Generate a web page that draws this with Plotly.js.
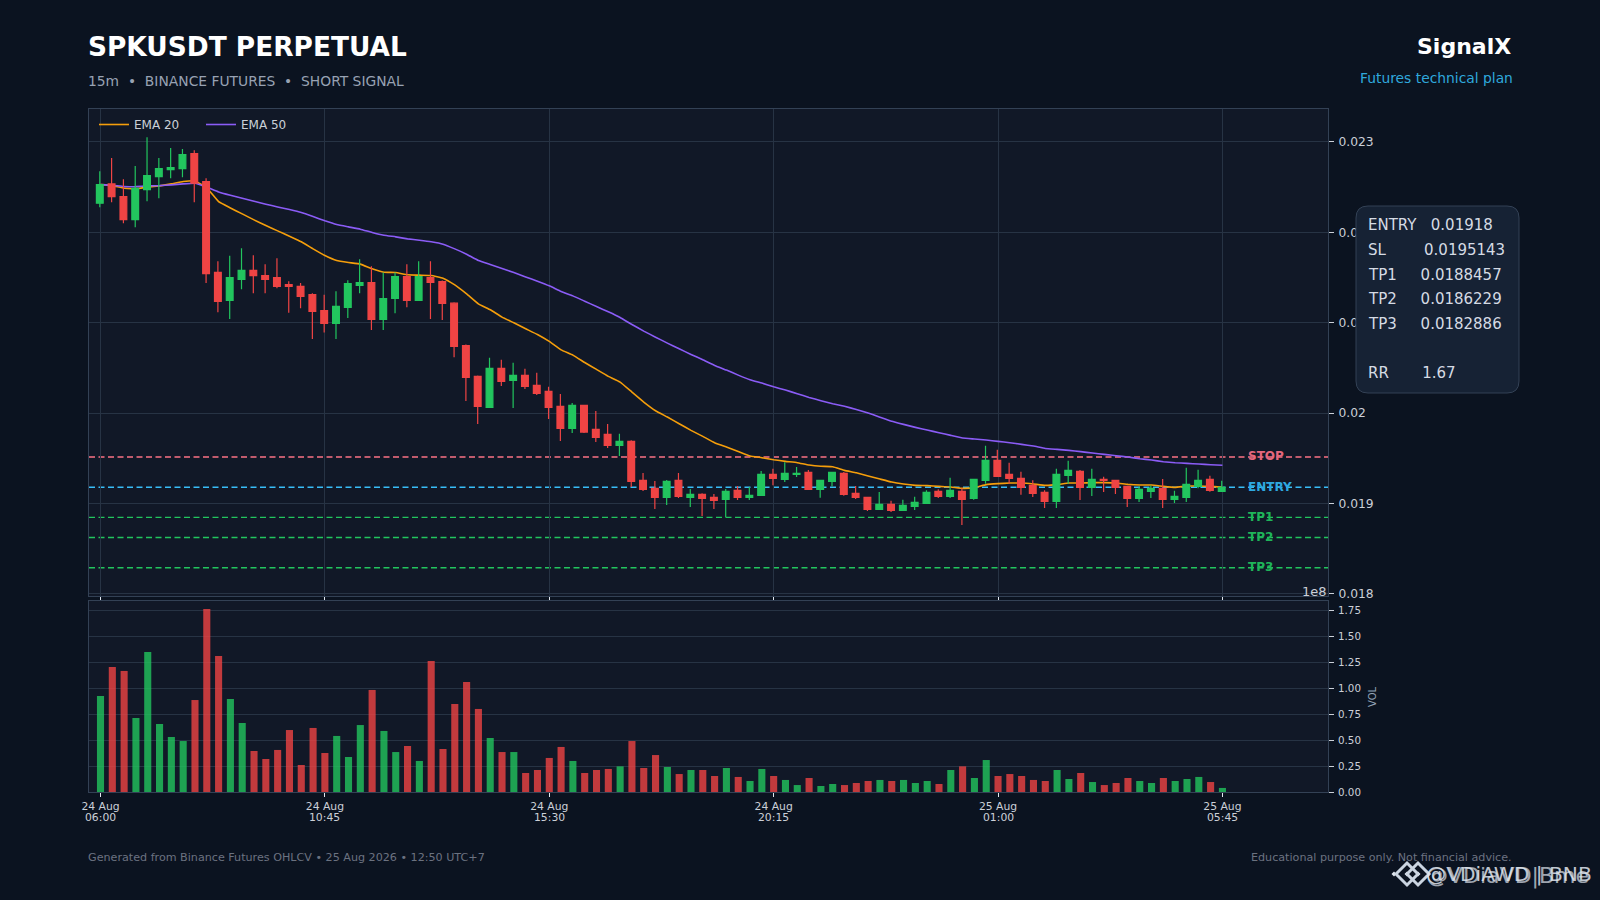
<!DOCTYPE html>
<html>
<head>
<meta charset="utf-8">
<script src="https://cdn.plot.ly/plotly-3.0.1.min.js"></script>
<style>html,body{margin:0;padding:0;background:#0b1320}#c{width:1600px;height:900px}</style>
</head>
<body>
<div id="c"></div>
<script>
const open = [0.022322,0.022536,0.022396,0.022141,0.022473,0.022617,0.022694,0.022705,0.022871,0.022562,0.021556,0.021246,0.021478,0.021578,0.021522,0.0215,0.021423,0.021401,0.021312,0.021135,0.020992,0.021169,0.021412,0.021445,0.021036,0.021268,0.021511,0.021246,0.0215,0.021456,0.021216,0.020748,0.020406,0.020063,0.020494,0.020361,0.020417,0.020306,0.02024,0.020074,0.019831,0.020085,0.01982,0.019764,0.019643,0.019687,0.019256,0.019167,0.019068,0.019256,0.019068,0.019101,0.019068,0.019046,0.019145,0.019068,0.01909,0.019322,0.019267,0.019322,0.019344,0.019156,0.019245,0.019333,0.019112,0.019068,0.018935,0.01899,0.018924,0.018968,0.019001,0.019134,0.019079,0.019134,0.019057,0.019256,0.019477,0.019322,0.019278,0.0192,0.019123,0.019024,0.019311,0.019355,0.019178,0.019267,0.019256,0.019189,0.019057,0.019134,0.019167,0.019046,0.019068,0.019189,0.019267,0.019134];
const close = [0.022528,0.022396,0.022141,0.022488,0.022628,0.022705,0.022716,0.02286,0.022543,0.021544,0.021235,0.0215,0.021578,0.021522,0.021478,0.021401,0.021401,0.02129,0.021124,0.020992,0.02118,0.021434,0.021445,0.021036,0.021268,0.021511,0.021246,0.021511,0.021445,0.021213,0.020737,0.020395,0.020074,0.020494,0.02035,0.020417,0.020295,0.020218,0.020063,0.019831,0.020085,0.01979,0.019731,0.019643,0.019687,0.019245,0.019156,0.019068,0.019245,0.019079,0.019101,0.019057,0.019035,0.019134,0.019068,0.01909,0.019322,0.019278,0.019333,0.019333,0.019156,0.019256,0.019344,0.019101,0.019068,0.018935,0.01899,0.018924,0.018979,0.019012,0.019123,0.019079,0.019145,0.019046,0.019267,0.019477,0.0193,0.019278,0.019178,0.019112,0.019024,0.019322,0.019366,0.019178,0.019267,0.019256,0.019178,0.019057,0.019156,0.019167,0.019046,0.019079,0.019211,0.019256,0.019145,0.019178];
const high = [0.022676,0.022823,0.022587,0.022735,0.023052,0.022823,0.022934,0.022923,0.022908,0.022598,0.021681,0.02174,0.021825,0.021747,0.021648,0.021714,0.02146,0.021438,0.021327,0.021309,0.021349,0.021471,0.021703,0.021626,0.021556,0.021556,0.021648,0.021681,0.021681,0.021467,0.021227,0.020759,0.020417,0.020612,0.02059,0.020557,0.02049,0.020446,0.020291,0.02021,0.020111,0.020092,0.020022,0.019879,0.019772,0.019698,0.019337,0.019249,0.01926,0.019337,0.01916,0.019112,0.019105,0.01916,0.019193,0.019182,0.019359,0.019385,0.019455,0.019403,0.01937,0.01926,0.01935,0.019348,0.019193,0.019068,0.019127,0.019031,0.019042,0.019075,0.019145,0.019156,0.019285,0.019167,0.019267,0.019639,0.019595,0.019451,0.019352,0.019256,0.019145,0.019385,0.019473,0.01937,0.019385,0.019296,0.019256,0.019197,0.019189,0.0192,0.01927,0.019141,0.019396,0.019374,0.019307,0.019252];
const low = [0.022278,0.022333,0.022101,0.022057,0.022344,0.022377,0.022598,0.022609,0.022333,0.021438,0.021117,0.02104,0.021371,0.021327,0.021327,0.021382,0.02111,0.021161,0.020819,0.020892,0.020819,0.021051,0.021327,0.020918,0.020918,0.021106,0.021172,0.021239,0.02104,0.021029,0.020619,0.020133,0.019879,0.020063,0.020299,0.020056,0.020266,0.020199,0.019934,0.019691,0.019779,0.019779,0.01968,0.019613,0.019525,0.019182,0.019138,0.018939,0.018983,0.019061,0.018961,0.018862,0.018939,0.018851,0.019038,0.019038,0.019083,0.019201,0.019237,0.019293,0.019149,0.019064,0.019189,0.019086,0.019049,0.018917,0.018928,0.018906,0.01892,0.018928,0.018994,0.01906,0.01906,0.018762,0.019042,0.019219,0.019293,0.019219,0.019097,0.019071,0.01895,0.01895,0.019219,0.019038,0.019082,0.019127,0.019105,0.018961,0.019016,0.01906,0.01895,0.019005,0.019016,0.019167,0.01913,0.019134];
const ema20 = [0.022528,0.022517,0.022488,0.022484,0.022499,0.022514,0.022536,0.022562,0.022569,0.022492,0.02234,0.02227,0.022204,0.022138,0.022075,0.022016,0.021957,0.021895,0.021817,0.021743,0.021688,0.021666,0.021648,0.021596,0.021559,0.021556,0.02153,0.021526,0.021522,0.021493,0.021419,0.02132,0.021209,0.021143,0.021062,0.020999,0.020933,0.02087,0.020793,0.0207,0.020641,0.02056,0.020483,0.020406,0.020343,0.020232,0.020122,0.020026,0.019956,0.019882,0.019809,0.019742,0.019672,0.019624,0.019576,0.019525,0.019506,0.019484,0.019466,0.019451,0.019425,0.019411,0.019407,0.019366,0.01934,0.019304,0.01927,0.019237,0.019215,0.0192,0.019197,0.019189,0.019182,0.019167,0.019175,0.019208,0.019219,0.019226,0.019226,0.019215,0.0192,0.019208,0.019226,0.019226,0.01923,0.01923,0.019226,0.019211,0.019204,0.019204,0.019189,0.019178,0.019193,0.019193,0.019189,0.019178];
const ema50 = [0.022528,0.022521,0.022506,0.022506,0.022514,0.022517,0.022525,0.022536,0.022543,0.022499,0.022447,0.02241,0.022377,0.022344,0.022311,0.022281,0.022252,0.022219,0.022175,0.022127,0.022086,0.02206,0.022035,0.021998,0.021968,0.02195,0.021928,0.021913,0.021895,0.021869,0.021817,0.021758,0.021688,0.021644,0.0216,0.021555,0.021507,0.02146,0.021408,0.021345,0.021297,0.021238,0.021179,0.021121,0.021058,0.02098,0.020907,0.02084,0.020774,0.020711,0.020649,0.02059,0.020527,0.020476,0.02042,0.020369,0.020332,0.020291,0.020255,0.020214,0.020173,0.020137,0.020103,0.020075,0.02004,0.02,0.019955,0.01991,0.019875,0.019842,0.019812,0.019783,0.019753,0.019724,0.019713,0.019702,0.019687,0.019672,0.019654,0.019635,0.019609,0.019598,0.019587,0.019573,0.019558,0.019543,0.019528,0.019514,0.019495,0.01948,0.019462,0.019451,0.019444,0.019436,0.019429,0.019422];
const volume = [0.925,1.204,1.166,0.713,1.349,0.655,0.53,0.491,0.886,1.763,1.31,0.896,0.665,0.395,0.318,0.405,0.597,0.26,0.617,0.376,0.54,0.337,0.645,0.983,0.588,0.385,0.443,0.299,1.262,0.414,0.848,1.06,0.8,0.52,0.385,0.385,0.183,0.212,0.328,0.434,0.299,0.183,0.212,0.222,0.247,0.491,0.231,0.356,0.241,0.173,0.212,0.212,0.154,0.231,0.145,0.106,0.222,0.154,0.116,0.067,0.135,0.058,0.077,0.067,0.087,0.106,0.116,0.106,0.116,0.087,0.106,0.077,0.212,0.247,0.135,0.308,0.154,0.173,0.154,0.116,0.106,0.212,0.125,0.183,0.096,0.067,0.087,0.135,0.106,0.087,0.135,0.106,0.125,0.145,0.096,0.039];
const xIndex = open.map((_, i) => i);
const xTickVals = [0, 19, 38, 57, 76, 95];
const xTickDate = ['24 Aug', '24 Aug', '24 Aug', '24 Aug', '25 Aug', '25 Aug'];
const xTickTime = ['06:00', '10:45', '15:30', '20:15', '01:00', '05:45'];
const priceTicks = [0.018, 0.019, 0.02, 0.021, 0.022, 0.023];
const priceTickText = ['0.018', '0.019', '0.02', '0.021', '0.022', '0.023'];
const levelNames = ['STOP', 'ENTRY', 'TP1', 'TP2', 'TP3'];
const levelValues = [0.0195143, 0.01918, 0.0188457, 0.0186229, 0.0182886];
const levelColors = ['#fb7185', '#38bdf8', '#22c55e', '#22c55e', '#22c55e'];
const labelColors = ['#e5677d', '#2ea8e0', '#1fb45a', '#1fb45a', '#1fb45a'];
const planLabels = ['ENTRY', 'SL', 'TP1', 'TP2', 'TP3', 'RR'];
const planValues = ['0.01918', '0.0195143', '0.0188457', '0.0186229', '0.0182886', '1.67'];
const planGaps = [3, 8, 5, 5, 5, 7];
const planY = [225, 250, 275, 299, 324, 373];

const FONT = '"DejaVu Sans", sans-serif';
const GREEN = '#22c55e', RED = '#ef4444';
const GRID = '#273344', FRAME = '#334155', TICK = '#cbd0d8';
const px = x => x / 1600, py = y => 1 - y / 900;
const xRange = [-0.974, 103.94];
const candleXRange = [-0.914, 104.0];
const priceRange = [0.017976, 0.023368];

const traces = [
  {type:'scatter', mode:'lines', name:'EMA 20', x:xIndex, y:ema20, xaxis:'x', yaxis:'y',
   line:{color:'#f59e0b', width:1.6, shape:'spline', smoothing:0.3}, hoverinfo:'skip'},
  {type:'scatter', mode:'lines', name:'EMA 50', x:xIndex, y:ema50, xaxis:'x', yaxis:'y',
   line:{color:'#8b5cf6', width:1.6, shape:'spline', smoothing:0.3}, hoverinfo:'skip'},
  {type:'candlestick', x:xIndex, open, high, low, close, xaxis:'x3', yaxis:'y3', showlegend:false,
   whiskerwidth:0,
   increasing:{line:{color:GREEN, width:1.2}, fillcolor:GREEN},
   decreasing:{line:{color:RED, width:1.2}, fillcolor:RED}},
  {type:'bar', x:xIndex, y:volume, xaxis:'x2', yaxis:'y2', showlegend:false, width:0.6,
   marker:{color:xIndex.map(i => close[i] >= open[i] ? 'rgba(34,197,94,0.8)' : 'rgba(239,68,68,0.8)'), line:{width:0}}}
];

const text = (t, x, y, size, color, anchor, extra) => Object.assign({
  text:t, xref:'paper', yref:'paper', x:px(x), y:py(y), showarrow:false,
  xanchor:anchor||'left', yanchor:'middle', borderpad:0,
  font:{family:FONT, size, color}
}, extra||{});

const annotations = [
  text('<b>SPKUSDT PERPETUAL</b>', 86.5, 46, 26.4, '#ffffff'),
  text('15m\u00a0\u00a0•\u00a0\u00a0BINANCE FUTURES\u00a0\u00a0•\u00a0\u00a0SHORT SIGNAL', 86.5, 81, 13.85, '#98a2b3'),
  text('<b>SignalX</b>', 1512, 47, 22, '#ffffff', 'right'),
  text('Futures technical plan', 1514, 78, 13.85, '#2fa8dc', 'right'),
  text('1e8', 1328, 591, 13, TICK, 'right'),
  text('VOL', 1372, 697, 10, '#94a3b8', 'center', {textangle:-90}),
  text('Generated from Binance Futures OHLCV • 25 Aug 2026 • 12:50 UTC+7', 86.5, 857, 11.15, '#6b7280'),
  text('Educational purpose only. Not financial advice.', 1513, 857, 11.15, '#6b7280', 'right'),
  text('@VDiAWD | BNB', 1425, 874, 20.2, 'rgba(226,232,240,0.85)'),
  text('@VDiaVD|Bme', 1425, 876, 22, 'rgba(226,232,240,0.7)')
];
levelNames.forEach((n, i) => annotations.push({
  text:'<b>' + n + '</b>', xref:'paper', yref:'y', x:px(1246), y:levelValues[i], yshift:0.5,
  xanchor:'left', yanchor:'middle', showarrow:false, font:{family:FONT, size:12, color:labelColors[i]}
}));
planLabels.forEach((n, i) => annotations.push(
  text(n + '\u00a0'.repeat(planGaps[i]) + planValues[i], 1367, planY[i], 15, '#d5dbe4')
));
xTickTime.forEach((t, i) => annotations.push({
  text:t, xref:'x2', yref:'paper', x:xTickVals[i], y:py(817.5), xanchor:'center', yanchor:'middle', showarrow:false,
  font:{family:FONT, size:10.8, color:TICK}
}));

const shapes = levelValues.map((v, i) => ({
  type:'line', xref:'paper', yref:'y', x0:px(89), x1:px(1328), y0:v, y1:v, layer:'below',
  line:{color:levelColors[i], width:1.4, dash:'6px,3.5px'}
}));
const bx0 = 1356, bx1 = 1519, by0 = 206, by1 = 393, r = 12;
const P = (x, y) => px(x) + ' ' + py(y);
shapes.push({
  type:'path', xref:'paper', yref:'paper', layer:'above', fillcolor:'#162234',
  line:{color:'#334155', width:1},
  path:`M ${P(bx0+r,by0)} L ${P(bx1-r,by0)} Q ${P(bx1,by0)} ${P(bx1,by0+r)} L ${P(bx1,by1-r)} Q ${P(bx1,by1)} ${P(bx1-r,by1)} L ${P(bx0+r,by1)} Q ${P(bx0,by1)} ${P(bx0,by1-r)} L ${P(bx0,by0+r)} Q ${P(bx0,by0)} ${P(bx0+r,by0)} Z`
});
const diamond = (cx, cy, d) => `M ${P(cx-d,cy)} L ${P(cx,cy-d)} L ${P(cx+d,cy)} L ${P(cx,cy+d)} Z`;
[[1394,874,2.5],[1407,874,2.5],[1418,874,2.5]].forEach(d => shapes.push({
  type:'path', xref:'paper', yref:'paper', layer:'above', fillcolor:'#e2e8f0', line:{width:0}, path:diamond(d[0],d[1],d[2])
}));
[[1407,874,11],[1418,874,11]].forEach(d => shapes.push({
  type:'path', xref:'paper', yref:'paper', layer:'above', fillcolor:'rgba(0,0,0,0)', line:{color:'#cbd5e1', width:3}, path:diamond(d[0],d[1],d[2])
}));

const layout = {
  width:1600, height:900, margin:{l:0,r:0,t:0,b:0}, autosize:false,
  paper_bgcolor:'#0b1320', plot_bgcolor:'#111827',
  font:{family:FONT, color:TICK},
  bargap:0.4, boxgap:0.18, hovermode:false, dragmode:false,
  showlegend:true,
  legend:{orientation:'h', x:px(94), y:py(110), xanchor:'left', yanchor:'top', bgcolor:'rgba(0,0,0,0)',
          font:{family:FONT, size:12, color:TICK}, itemwidth:30, entrywidth:62, entrywidthmode:'pixels'},
  xaxis:{domain:[px(89),px(1328)], range:xRange, anchor:'y', tickmode:'array', tickvals:xTickVals, ticktext:xTickVals.map(()=>''),
         showgrid:true, gridcolor:GRID, gridwidth:1, zeroline:false, ticks:'outside', ticklen:4, tickcolor:'#e2e8f0',
         showline:true, linecolor:FRAME, mirror:true},
  yaxis:{domain:[py(596),py(108.7)], range:priceRange, anchor:'x', side:'right', tickmode:'array', tickvals:priceTicks, ticktext:priceTickText,
         showgrid:true, gridcolor:GRID, gridwidth:1, zeroline:false, ticks:'outside', ticklen:5, tickcolor:TICK, ticklabelstandoff:2,
         tickfont:{family:FONT, size:12.3, color:TICK}, showline:true, linecolor:FRAME, mirror:true},
  xaxis3:{overlaying:'x', range:candleXRange, anchor:'y3', visible:false, rangeslider:{visible:false}},
  yaxis3:{overlaying:'y', range:priceRange, anchor:'x3', visible:false, side:'right'},
  xaxis2:{domain:[px(89),px(1328)], range:xRange, anchor:'y2', tickmode:'array', tickvals:xTickVals, ticktext:xTickDate,
          showgrid:false, zeroline:false, ticks:'outside', ticklen:4, tickcolor:'#e2e8f0', tickfont:{family:FONT, size:10.8, color:TICK},
          showline:true, linecolor:FRAME, mirror:true},
  yaxis2:{domain:[py(792),py(601)], range:[0,1.84], anchor:'x2', side:'right', tickmode:'array',
          tickvals:[0,0.25,0.5,0.75,1,1.25,1.5,1.75], tickformat:'.2f',
          showgrid:true, gridcolor:GRID, gridwidth:1, zeroline:false, ticks:'outside', ticklen:5, tickcolor:TICK, ticklabelstandoff:2,
          tickfont:{family:FONT, size:10.3, color:TICK}, showline:true, linecolor:FRAME, mirror:true},
  shapes, annotations
};
Plotly.newPlot('c', traces, layout, {displayModeBar:false, staticPlot:true});
</script>
</body>
</html>
